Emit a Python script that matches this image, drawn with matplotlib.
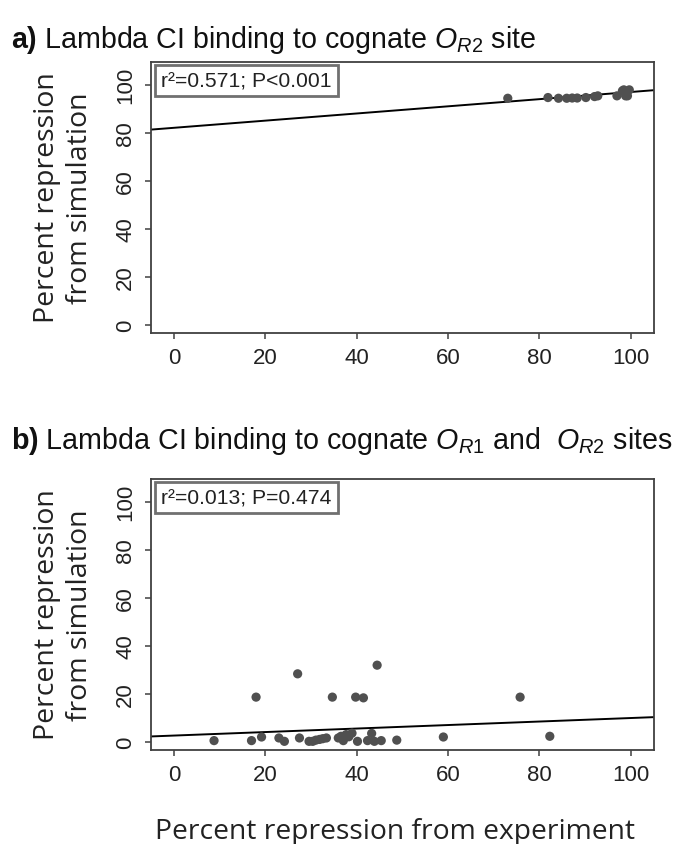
import numpy as np
import matplotlib
matplotlib.use("Agg")
import matplotlib.pyplot as plt

plt.rcParams['font.family'] = ['Liberation Sans', 'DejaVu Sans']
plt.rcParams['mathtext.fontset'] = 'custom'
plt.rcParams['mathtext.rm'] = 'Liberation Sans'
plt.rcParams['mathtext.it'] = 'Liberation Sans:italic'
plt.rcParams['mathtext.bf'] = 'Liberation Sans:bold'

# panel a: O_R2 only
a_exp = [73.1, 81.9, 84.2, 86.0, 87.2, 88.3, 90.2, 92.1, 92.8, 97.0, 98.2, 98.5, 98.9, 99.3, 99.7]
a_sim = [94.4, 94.7, 94.4, 94.4, 94.5, 94.5, 94.7, 95.1, 95.4, 95.4, 97.5, 97.9, 95.4, 95.4, 97.9]
a_fit = (82.1, 0.149)  # intercept, slope
a_stat = "r²=0.571; P<0.001"

# panel b: O_R1 and O_R2
b_exp = [8.8, 17.0, 18.0, 19.2, 23.0, 24.2, 27.1, 27.5, 29.6, 30.4, 31.1, 31.9, 32.6, 33.4,
         34.7, 36.0, 36.6, 37.1, 37.7, 38.3, 39.0, 39.8, 40.2, 41.5, 42.4, 43.3, 43.9, 44.5,
         45.4, 48.8, 59.0, 75.8, 82.3]
b_sim = [0.6, 0.6, 18.7, 2.1, 1.7, 0.3, 28.4, 1.7, 0.3, 0.3, 0.8, 1.1, 1.4, 1.7,
         18.7, 1.7, 2.4, 0.6, 3.1, 2.2, 3.7, 18.7, 0.3, 18.4, 0.6, 3.6, 0.3, 32.0,
         0.6, 0.8, 2.1, 18.7, 2.4]
b_fit = (2.7, 0.073)
b_stat = "r²=0.013; P=0.474"

ticks = [0, 20, 40, 60, 80, 100]

fig = plt.figure(figsize=(6.8, 8.45), dpi=100)
W, H = 680, 845
ax_a = fig.add_axes([151 / W, 1 - 333.5 / H, 502.5 / W, 271 / H])
ax_b = fig.add_axes([151 / W, 1 - 750.5 / H, 502.5 / W, 271 / H])

ylab = "Percent repression\nfrom simulation"

for ax, xs, ys, fit, stat in [(ax_a, a_exp, a_sim, a_fit, a_stat),
                              (ax_b, b_exp, b_sim, b_fit, b_stat)]:
    ax.set_xlim(-5, 105)
    ax.set_ylim(-3.1, 109.7)
    xx = np.array(ax.get_xlim())
    ax.plot(xx, fit[0] + fit[1] * xx, color='black', lw=1.4, zorder=2)
    ax.scatter(xs, ys, s=44, color='#505050', edgecolors='none', zorder=3)
    ax.set_xticks(ticks)
    ax.set_yticks(ticks)
    ax.tick_params(direction='out', length=4.3, width=1.1, color='#404040',
                   labelsize=16, labelcolor='#222222')
    ax.tick_params(axis='x', pad=6)
    ax.tick_params(axis='y', pad=6.5)
    plt.setp(ax.get_yticklabels(), rotation=90, va='center')
    for sp in ax.spines.values():
        sp.set_color('#404040')
        sp.set_linewidth(1.3)
    ax.set_ylabel(ylab, family=['Open Sans', 'DejaVu Sans'], fontsize=20.5,
                  linespacing=1.26, color='#222222')
    ax.yaxis.set_label_coords(-0.113, 0.5)
    ax.text(0.0205, 0.9646, stat, transform=ax.transAxes, va='top', ha='left',
            fontsize=15.2, color='#222222',
            bbox=dict(boxstyle='square,pad=0.3', fc='white', ec='#707070', lw=2))

fig.text(395 / W, 1 - 839 / H, "Percent repression from experiment",
         family=['Open Sans', 'DejaVu Sans'], fontsize=20.3, color='#222222',
         ha='center', va='baseline')

fig.text(11 / W, 1 - 47.5 / H,
         r'$\mathbf{a)}$ Lambda CI binding to cognate $\mathit{O}_{\mathit{R2}}$ site',
         fontsize=20.6, va='baseline', ha='left', color='#111111')
fig.text(11 / W, 1 - 449 / H,
         r'$\mathbf{b)}$ Lambda CI binding to cognate $\mathit{O}_{\mathit{R1}}$ and  $\mathit{O}_{\mathit{R2}}$ sites',
         fontsize=20.6, va='baseline', ha='left', color='#111111')

fig.savefig("out.png", dpi=100)
